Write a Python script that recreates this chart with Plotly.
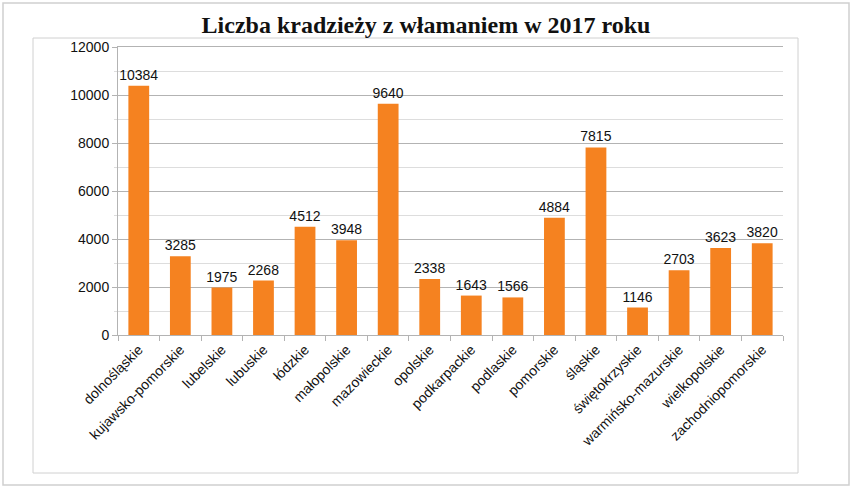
import plotly.graph_objects as go

categories = ["dolnośląskie", "kujawsko-pomorskie", "lubelskie", "lubuskie", "łódzkie",
              "małopolskie", "mazowieckie", "opolskie", "podkarpackie", "podlaskie",
              "pomorskie", "śląskie", "świętokrzyskie", "warmińsko-mazurskie",
              "wielkopolskie", "zachodniopomorskie"]
values = [10384, 3285, 1975, 2268, 4512, 3948, 9640, 2338, 1643, 1566,
          4884, 7815, 1146, 2703, 3623, 3820]
tick_vals = [0, 2000, 4000, 6000, 8000, 10000, 12000]
tick_text = ["0", "2000", "4000", "6000", "8000", "10000", "12000"]

W, H = 852, 488
L, R, T, B = 118, 783, 47, 335
pw, ph = R - L, B - T

def px(x):
    return (x - L) / pw

def py(y):
    return (B - y) / ph

fig = go.Figure(go.Bar(
    x=categories, y=values,
    marker=dict(color="#f58220", line=dict(width=0)),
    width=0.5,
    text=[str(v) for v in values], textposition="outside",
    constraintext="none",
    textfont=dict(family="Liberation Sans", size=14, color="#111111"),
    cliponaxis=False,
))

fig.update_layout(
    width=W, height=H,
    margin=dict(l=L, r=W - R, t=T, b=H - B),
    paper_bgcolor="white", plot_bgcolor="white",
    title=dict(text="<b>Liczba kradzieży z włamaniem w 2017 roku</b>",
               font=dict(family="Liberation Serif", size=24, color="#111111"),
               x=0.5, xanchor="center", y=1 - 25 / H, yanchor="middle"),
    showlegend=False,
    bargap=0.5,
    font=dict(family="Liberation Sans", size=13, color="#111111"),
    xaxis=dict(tickangle=-45, tickson="boundaries", ticks="outside", ticklen=5,
               tickcolor="#b3b3b3", showline=True, linecolor="#b3b3b3",
               mirror=True, showgrid=False,
               tickfont=dict(family="Liberation Sans", size=14, color="#111111")),
    yaxis=dict(range=[0, 12000], tickvals=tick_vals, ticktext=tick_text,
               ticks="outside", ticklen=5,
               tickcolor="#b3b3b3", showline=True, linecolor="#b3b3b3",
               gridcolor="#b3b3b3", gridwidth=1, zeroline=False,
               minor=dict(dtick=1000, showgrid=True, gridcolor="#dddddd",
                          ticks="outside", ticklen=3, tickcolor="#dddddd"),
               tickfont=dict(family="Liberation Sans", size=14, color="#111111")),
    shapes=[
        dict(type="rect", xref="paper", yref="paper",
             x0=px(3), x1=px(849), y0=py(3), y1=py(485),
             line=dict(color="#d0d0d0", width=1.5), layer="below"),
        dict(type="rect", xref="paper", yref="paper",
             x0=px(33), x1=px(798), y0=py(38), y1=py(473),
             line=dict(color="#d0d0d0", width=1), layer="below"),
    ],
)

fig.write_html("out.html")
